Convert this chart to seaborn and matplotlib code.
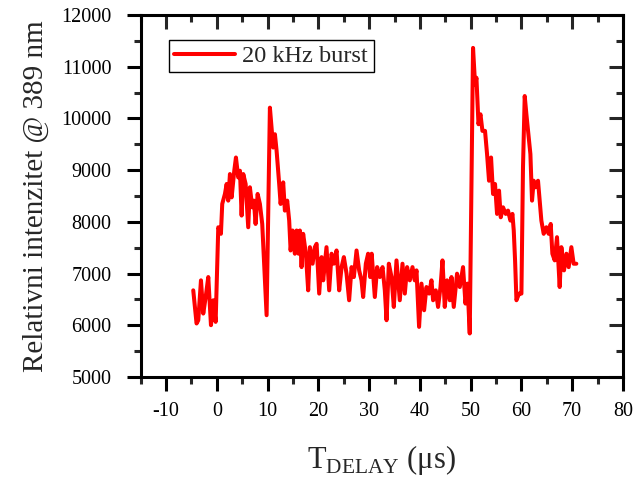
import pandas as pd
import matplotlib
matplotlib.use("Agg")
import matplotlib.pyplot as plt
import seaborn as sns
from matplotlib.ticker import MultipleLocator

sns.set_style("ticks")
plt.rcParams['font.family'] = ['Liberation Serif', 'DejaVu Serif']
plt.rcParams['mathtext.fontset'] = 'custom'
plt.rcParams['mathtext.rm'] = 'Liberation Serif'
plt.rcParams['axes.unicode_minus'] = False

# -------------------------------
# Data
# -------------------------------
t_delay = [
    -4.65, -4.0, -3.66, -3.13, -2.68, -2.2, -1.69, -1.16, -0.7, -0.24,
    0.28, 0.8, 1.06, 1.59, 1.93, 2.24, 2.58, 2.91, 3.43, 3.76,
    4.21, 4.55, 4.88, 5.2, 5.67, 6.18, 6.51, 6.97, 7.3, 7.63,
    8.03, 8.48, 8.94, 9.8, 10.45, 11.1, 11.44, 11.77, 12.28, 12.56,
    13.07, 13.4, 13.86, 14.25, 14.53, 14.92, 15.37, 15.71, 16.1, 16.36,
    16.69, 17.0, 17.54, 17.99, 18.33, 18.86, 19.3, 19.65, 20.16, 20.63,
    20.95, 21.6, 22.13, 22.6, 23.05, 23.58, 24.1, 24.57, 25.02, 25.55,
    26.06, 26.54, 26.99, 27.52, 28.03, 28.5, 28.82, 29.35, 29.8, 30.2,
    30.5, 31.12, 31.58, 32.11, 32.64, 33.09, 33.43, 33.88, 34.41, 34.86,
    35.39, 36.04, 36.57, 37.03, 37.48, 38.01, 38.54, 38.99, 39.33, 39.84,
    40.31, 40.83, 41.29, 41.81, 42.28, 42.6, 43.13, 43.58, 44.06, 44.45,
    44.9, 45.36, 45.89, 46.22, 46.67, 47.32, 47.86, 48.5, 48.98, 49.37,
    49.82, 50.47, 50.87, 51.14, 51.54, 51.93, 52.32, 52.83, 53.23, 53.62,
    54.02, 54.41, 54.8, 55.2, 55.59, 55.93, 56.38, 56.91, 57.36, 57.83,
    58.23, 58.49, 58.75, 59.02, 59.53, 60.0, 60.31, 60.65, 60.98, 61.38,
    61.77, 62.09, 62.42, 62.81, 63.27, 63.6, 63.93, 64.39, 64.92, 65.37,
    65.77, 66.1, 66.56, 67.01, 67.54, 67.87, 68.39, 68.86, 69.31, 69.84,
    70.29, 70.82,
]
intensity = [
    6676, 6035, 6098, 6869, 6227, 6547, 6933, 6002, 6484, 6066,
    7896, 7769, 8347, 8540, 8733, 8411, 8925, 8474, 8989, 9245,
    8860, 8989, 8122, 8925, 8733, 7896, 8669, 8282, 8411, 7960,
    8540, 8347, 7960, 6195, 10209, 9438, 9695, 9374, 8733, 8347,
    8764, 8218, 8411, 8025, 7447, 7833, 7384, 7833, 7384, 7833,
    7125, 7769, 7384, 6676, 7511, 7191, 7511, 7576, 6613, 7318,
    6869, 7511, 6676, 7384, 7191, 7447, 6676, 7125, 7318, 6998,
    6484, 7125, 6933, 7447, 7062, 6869, 6547, 7191, 7384, 6933,
    7384, 6547, 7125, 6933, 7125, 6676, 6098, 7191, 6933, 6355,
    7255, 6484, 7191, 6613, 7125, 6869, 7125, 6869, 7062, 5969,
    6806, 6291, 6740, 6613, 6869, 6484, 6676, 6355, 6740, 7255,
    6355, 6869, 6484, 6933, 6355, 6998, 6740, 7125, 6420, 6806,
    5842, 11365, 10659, 10787, 9889, 10081, 9760, 9760, 9311, 8796,
    9245, 8540, 8733, 8154, 8604, 8089, 8282, 8154, 8218, 8025,
    8154, 7833, 7255, 6484, 6613, 6613, 9053, 10434, 10081, 9695,
    9311, 8411, 8796, 8669, 8796, 8411, 8025, 7769, 7896, 7769,
    7960, 7384, 7255, 7704, 6740, 7511, 7062, 7384, 7125, 7511,
    7191, 7191,
]
series_label = "20 kHz burst"

df = pd.DataFrame({"t": t_delay, "I": intensity, "series": series_label})

# -------------------------------
# Figure
# -------------------------------
fig, ax = plt.subplots(figsize=(6.35, 4.86), dpi=100)
fig.subplots_adjust(left=0.2216, right=0.981, top=0.969, bottom=0.2243)

sns.lineplot(data=df, x="t", y="I", hue="series", palette=["#ff0000"],
             linewidth=2.9, sort=False, ax=ax)

ax.set_xlim(-15, 80)
ax.set_ylim(5000, 12000)
ax.xaxis.set_major_locator(MultipleLocator(10))
ax.xaxis.set_minor_locator(MultipleLocator(5))
ax.yaxis.set_major_locator(MultipleLocator(1000))
ax.yaxis.set_minor_locator(MultipleLocator(500))
ax.set_xticks(range(-10, 81, 10))

for s in ax.spines.values():
    s.set_linewidth(2.2)
    s.set_color("black")

ax.tick_params(which="major", direction="out", length=10, width=2.2,
               labelsize=14.5, colors="black", pad=8)
ax.tick_params(which="minor", direction="out", length=5, width=2.2)
ax.tick_params(axis="y", which="major", pad=11)

# mirrored inward ticks on top and right
top = ax.secondary_xaxis("top")
top.xaxis.set_major_locator(MultipleLocator(10))
top.xaxis.set_minor_locator(MultipleLocator(5))
top.tick_params(which="major", direction="in", length=10, width=2.2, labeltop=False)
top.tick_params(which="minor", direction="in", length=5, width=2.2)
right = ax.secondary_yaxis("right")
right.yaxis.set_major_locator(MultipleLocator(1000))
right.yaxis.set_minor_locator(MultipleLocator(500))
right.tick_params(which="major", direction="in", length=10, width=2.2, labelright=False)
right.tick_params(which="minor", direction="in", length=5, width=2.2)

ax.set_xlabel(r"T$_{\mathrm{DELAY}}$ ($\mathrm{\mu}$s)", fontsize=22, labelpad=16)
ax.set_ylabel("Relativni intenzitet @ 389 nm", fontsize=21, labelpad=9)

leg = ax.legend(loc="upper left", bbox_to_anchor=(0.0587, 0.932),
                borderaxespad=0, fontsize=17.5, frameon=True, fancybox=False,
                edgecolor="black", handlelength=2.5, handletextpad=0.3,
                borderpad=0.22)
leg.get_frame().set_linewidth(1.0)
leg.get_frame().set_alpha(1)

plt.savefig("out.png", dpi=100)
